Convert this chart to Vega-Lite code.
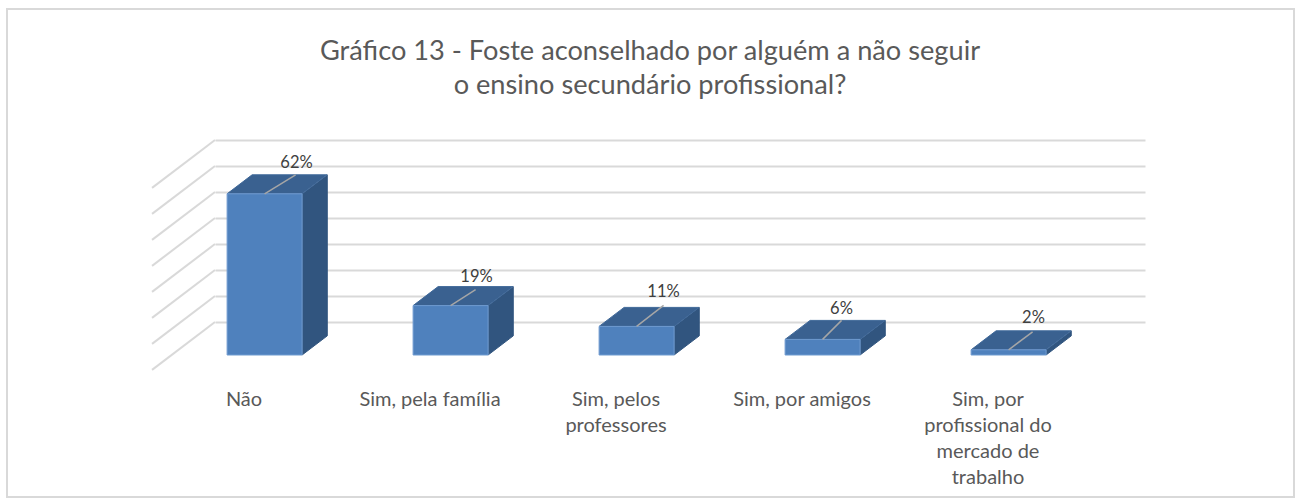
{
  "$schema": "https://vega.github.io/schema/vega-lite/v6.json",
  "width": 930,
  "height": 182,
  "autosize": "none",
  "padding": {"left": 215, "top": 140, "right": 151, "bottom": 182},
  "background": "white",
  "title": {
    "text": ["Gráfico 13 - Foste aconselhado por alguém a não seguir", "o ensino secundário profissional?"],
    "font": "Lato", "fontSize": 27.2, "fontWeight": "normal", "color": "#595959",
    "lineHeight": 34, "anchor": "middle", "dx": -30, "offset": -92
  },
  "config": {"font": "Lato", "view": {"stroke": null}},
  "datasets": {
    "bars": [
      {"categoria": "Não", "pct": 0.62},
      {"categoria": "Sim, pela família", "pct": 0.19},
      {"categoria": "Sim, pelos professores", "pct": 0.11},
      {"categoria": "Sim, por amigos", "pct": 0.06},
      {"categoria": "Sim, por profissional do mercado de trabalho", "pct": 0.02}
    ],
    "sideFaces": [
      {"categoria": "Não", "level": 0.62, "depth": 100, "corner": 1},
      {"categoria": "Não", "level": 0, "depth": 100, "corner": 2},
      {"categoria": "Não", "level": 0, "depth": 42, "corner": 3},
      {"categoria": "Não", "level": 0.62, "depth": 42, "corner": 4},
      {"categoria": "Sim, pela família", "level": 0.19, "depth": 100, "corner": 1},
      {"categoria": "Sim, pela família", "level": 0, "depth": 100, "corner": 2},
      {"categoria": "Sim, pela família", "level": 0, "depth": 42, "corner": 3},
      {"categoria": "Sim, pela família", "level": 0.19, "depth": 42, "corner": 4},
      {"categoria": "Sim, pelos professores", "level": 0.11, "depth": 100, "corner": 1},
      {"categoria": "Sim, pelos professores", "level": 0, "depth": 100, "corner": 2},
      {"categoria": "Sim, pelos professores", "level": 0, "depth": 42, "corner": 3},
      {"categoria": "Sim, pelos professores", "level": 0.11, "depth": 42, "corner": 4},
      {"categoria": "Sim, por amigos", "level": 0.06, "depth": 100, "corner": 1},
      {"categoria": "Sim, por amigos", "level": 0, "depth": 100, "corner": 2},
      {"categoria": "Sim, por amigos", "level": 0, "depth": 42, "corner": 3},
      {"categoria": "Sim, por amigos", "level": 0.06, "depth": 42, "corner": 4},
      {"categoria": "Sim, por profissional do mercado de trabalho", "level": 0.02, "depth": 100, "corner": 1},
      {"categoria": "Sim, por profissional do mercado de trabalho", "level": 0, "depth": 100, "corner": 2},
      {"categoria": "Sim, por profissional do mercado de trabalho", "level": 0, "depth": 42, "corner": 3},
      {"categoria": "Sim, por profissional do mercado de trabalho", "level": 0.02, "depth": 42, "corner": 4}
    ],
    "wallEdges": [
      {"categoria": "Não", "level": 0, "depth": 0},
      {"categoria": "Não", "level": 0, "depth": 145},
      {"categoria": "Não", "level": 0.1, "depth": 0},
      {"categoria": "Não", "level": 0.1, "depth": 145},
      {"categoria": "Não", "level": 0.2, "depth": 0},
      {"categoria": "Não", "level": 0.2, "depth": 145},
      {"categoria": "Não", "level": 0.3, "depth": 0},
      {"categoria": "Não", "level": 0.3, "depth": 145},
      {"categoria": "Não", "level": 0.4, "depth": 0},
      {"categoria": "Não", "level": 0.4, "depth": 145},
      {"categoria": "Não", "level": 0.5, "depth": 0},
      {"categoria": "Não", "level": 0.5, "depth": 145},
      {"categoria": "Não", "level": 0.6, "depth": 0},
      {"categoria": "Não", "level": 0.6, "depth": 145},
      {"categoria": "Não", "level": 0.7, "depth": 0},
      {"categoria": "Não", "level": 0.7, "depth": 145}
    ]
  },
  "layer": [
    {
      "data": {"values": [{"frame": "chart area"}]},
      "mark": {"type": "rect", "fill": null, "stroke": "#d9d9d9", "strokeWidth": 2},
      "encoding": {
        "x": {"value": -208},
        "x2": {"value": 1079},
        "y": {"value": -131},
        "y2": {"value": 357}
      }
    },
    {
      "data": {"name": "bars"},
      "mark": {"type": "bar", "opacity": 0},
      "encoding": {
        "x": {
          "field": "categoria", "type": "nominal", "sort": null, "title": null,
          "scale": {"type": "band", "paddingInner": 0, "paddingOuter": 0},
          "axis": {
            "domain": false, "ticks": false, "labelAngle": 0, "labelFont": "Lato", "labelFontSize": 20,
            "labelColor": "#595959", "labelPadding": 67, "labelBaseline": "top", "labelLimit": 300,
            "labelLineHeight": 26,
            "labelOverlap": false, "labelFlush": false,
            "labelOffset": -64,
            "labelExpr": "datum.value == 'Sim, pelos professores' ? ['Sim, pelos', 'professores'] : datum.value == 'Sim, por profissional do mercado de trabalho' ? ['Sim, por', 'profissional do', 'mercado de', 'trabalho'] : datum.value"
          }
        },
        "y": {
          "field": "pct", "type": "quantitative", "title": null,
          "scale": {"domain": [0, 0.7], "nice": false},
          "axis": {
            "values": [0, 0.1, 0.2, 0.3, 0.4, 0.5, 0.6, 0.7],
            "tickCount": 8,
            "labels": false, "ticks": false, "domain": false, "grid": true,
            "gridColor": "#d9d9d9", "gridWidth": 2
          }
        }
      }
    },
    {
      "data": {"name": "wallEdges"},
      "transform": [{"calculate": "datum.level - datum.depth * 0.001269", "as": "projected"}],
      "mark": {"type": "line", "stroke": "#d9d9d9", "strokeWidth": 2},
      "encoding": {
        "x": {"field": "categoria", "type": "nominal", "sort": null},
        "xOffset": {"field": "depth", "type": "quantitative", "scale": {"domain": [0, 100], "range": [0, -43.4]}},
        "y": {"field": "projected", "type": "quantitative"},
        "detail": {"field": "level"},
        "order": {"field": "depth"}
      }
    },
    {
      "data": {"name": "sideFaces"},
      "transform": [
        {"calculate": "datum.level - datum.depth * 0.001269", "as": "projected"},
        {"calculate": "datum.depth - 300.7", "as": "sideDepth"}
      ],
      "mark": {"type": "line", "fill": "#31557f", "stroke": "#31557f", "strokeWidth": 1},
      "encoding": {
        "x": {"field": "categoria", "type": "nominal", "sort": null},
        "xOffset": {"field": "sideDepth", "type": "quantitative"},
        "y": {"field": "projected", "type": "quantitative"},
        "detail": {"field": "categoria"},
        "order": {"field": "corner"}
      }
    },
    {
      "data": {"name": "bars"},
      "mark": {
        "type": "point", "filled": true, "opacity": 1, "fill": "#3a6190", "stroke": "#3f6899", "strokeWidth": 1,
        "size": 10000, "shape": "M-1,0.19L0.5,0.19L1,-0.19L-0.5,-0.19Z",
        "xOffset": -30.9, "yOffset": 23.5
      },
      "encoding": {
        "x": {"field": "categoria", "type": "nominal", "sort": null},
        "y": {"field": "pct", "type": "quantitative"}
      }
    },
    {
      "data": {"name": "bars"},
      "mark": {"type": "bar", "size": 75, "fill": "#4f81bd", "stroke": "#6f9bd0", "strokeWidth": 1, "xOffset": -43.4, "x2Offset": -43.4, "yOffset": 33, "y2Offset": 33},
      "encoding": {
        "x": {"field": "categoria", "type": "nominal", "sort": null},
        "y": {"field": "pct", "type": "quantitative"},
        "y2": {"datum": 0}
      }
    },
    {
      "data": {"name": "bars"},
      "mark": {
        "type": "point", "filled": false, "opacity": 1, "stroke": "#a6a6a6", "strokeWidth": 1.5,
        "size": 10000,
        "xOffset": -43.4, "yOffset": 33
      },
      "encoding": {
        "x": {"field": "categoria", "type": "nominal", "sort": null},
        "y": {"field": "pct", "type": "quantitative"},
        "shape": {
          "condition": [
            {"test": "datum.pct == 0.62", "value": "M0,0L0.62,-0.38"},
            {"test": "datum.pct == 0.19", "value": "M0,0L0.5,-0.32"},
            {"test": "datum.pct == 0.11", "value": "M0,0L0.54,-0.42"},
            {"test": "datum.pct == 0.06", "value": "M0,0L0.38,-0.38"}
          ],
          "value": "M0,0L0.48,-0.36"
        }
      }
    },
    {
      "data": {"name": "bars"},
      "mark": {
        "type": "text", "font": "Lato", "fontSize": 16.5, "color": "#404040", "xOffset": -16.5, "yOffset": 2,
        "dx": {"expr": "datum.pct == 0.62 ? 5 : datum.pct == 0.19 ? -1 : datum.pct == 0.06 ? -8 : datum.pct == 0.02 ? -2 : 0"},
        "dy": {"expr": "datum.pct == 0.19 ? 2 : datum.pct == 0.11 ? -3 : datum.pct == 0.06 ? 1 : datum.pct == 0.02 ? -1 : 0"}
      },
      "encoding": {
        "x": {"field": "categoria", "type": "nominal", "sort": null},
        "y": {"field": "pct", "type": "quantitative"},
        "text": {"field": "pct", "type": "quantitative", "format": ".0%"}
      }
    }
  ]
}
